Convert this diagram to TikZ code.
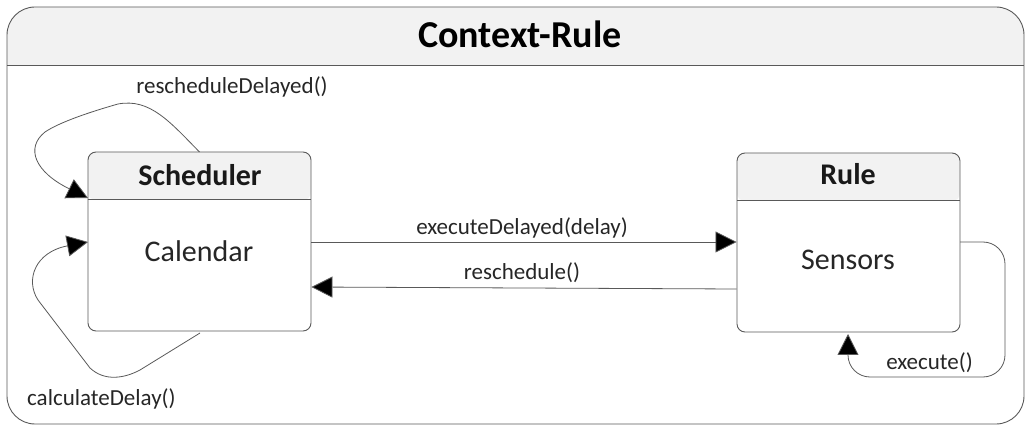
\documentclass[tikz,border=0pt]{standalone}
\usepackage{fontspec}
\setmainfont{Carlito}
\usetikzlibrary{arrows.meta}
\definecolor{hdr}{HTML}{F2F2F2}
\definecolor{ln}{HTML}{595959}
\tikzset{
  statebox/.style={draw=ln, line width=0.9pt, rounded corners=8pt, fill=white, minimum width=223pt, minimum height=179pt, inner sep=0pt,
    path picture={\fill[hdr] (path picture bounding box.north west) rectangle ([yshift=-48pt]path picture bounding box.north east);}},
  conn/.style={draw=ln, line width=0.8pt, -{Triangle[length=21pt,width=21pt,fill=black]}},
  lbl/.style={font=\fontsize{23}{26}\selectfont, text=black!85, inner sep=0pt},
  big/.style={font=\fontsize{30}{34}\selectfont, text=black!85, inner sep=0pt, anchor=base},
  bigb/.style={font=\fontsize{30}{34}\selectfont\bfseries, text=black!90, inner sep=0pt, anchor=base},
}
\begin{document}
\begin{tikzpicture}[x=1pt,y=-1pt]
\useasboundingbox (0,0) rectangle (1031,430);
% outer frame
\begin{scope}
  \clip (0,0) rectangle (1031,65);
  \fill[hdr, rounded corners=28pt] (7,7) rectangle (1024,424);
\end{scope}
\draw[ln, line width=0.9pt, rounded corners=28pt] (7,7) rectangle (1024,424);
\draw[ln, line width=0.9pt] (7,65) -- (1024,65);
\node[font=\fontsize{38}{42}\selectfont\bfseries, inner sep=0pt, anchor=base] (title) at (520,48) {Context-Rule};
% states
\node[statebox] (sch) at (199.5,241.5) {};
\draw[ln, line width=0.9pt] ([yshift=-48pt]sch.north west) -- ([yshift=-48pt]sch.north east);
\node[bigb] (schT) at (200,186) {Scheduler};
\node[big] (cal) at (199,262) {Calendar};
\node[statebox] (rule) at (848.5,242.5) {};
\draw[ln, line width=0.9pt] ([yshift=-48pt]rule.north west) -- ([yshift=-48pt]rule.north east);
\node[bigb] (ruleT) at (848,185) {Rule};
\node[big] (sen) at (848,270) {Sensors};
% transitions
\coordinate (a1) at (sch.east |- 0,242);
\coordinate (a2) at (rule.west |- 0,242);
\draw[conn] (a1) -- (a2);
\node[lbl, anchor=base] (l1) at (522,235) {executeDelayed(delay)};
\coordinate (b1) at (rule.west |- 0,289);
\coordinate (b2) at (sch.east |- 0,287);
\draw[conn] (b1) -- (b2);
\node[lbl, anchor=base] (l2) at (522,280) {reschedule()};
% rescheduleDelayed self loop
\coordinate (r0) at (sch.north |- 0,152);
\coordinate (r1) at (88,198);
\draw[conn] (r0) .. controls (170,122) and (150,98) .. (118,104)
  .. controls (90,112) and (60,122) .. (45,132)
  .. controls (25,148) and (35,172) .. (r1);
\node[lbl, anchor=base] (l3) at (232,94) {rescheduleDelayed()};
% calculateDelay self loop
\coordinate (c0) at (200,333);
\coordinate (c1) at (88,242);
\draw[conn] (c0) -- (140,370) .. controls (125,378) and (105,382) .. (90,368)
  -- (38,300) .. controls (25,280) and (35,252) .. (c1);
\node[lbl, anchor=base west] (l4) at (27,405) {calculateDelay()};
% execute self loop
\coordinate (e0) at (960,242);
\coordinate (e1) at (848,334);
\draw[conn, rounded corners=22pt] (e0) -- (1005,242) -- (1005,377) -- (848,377) -- (e1);
\node[lbl, anchor=base east] (l5) at (973,370) {execute()};
\end{tikzpicture}
\end{document}
